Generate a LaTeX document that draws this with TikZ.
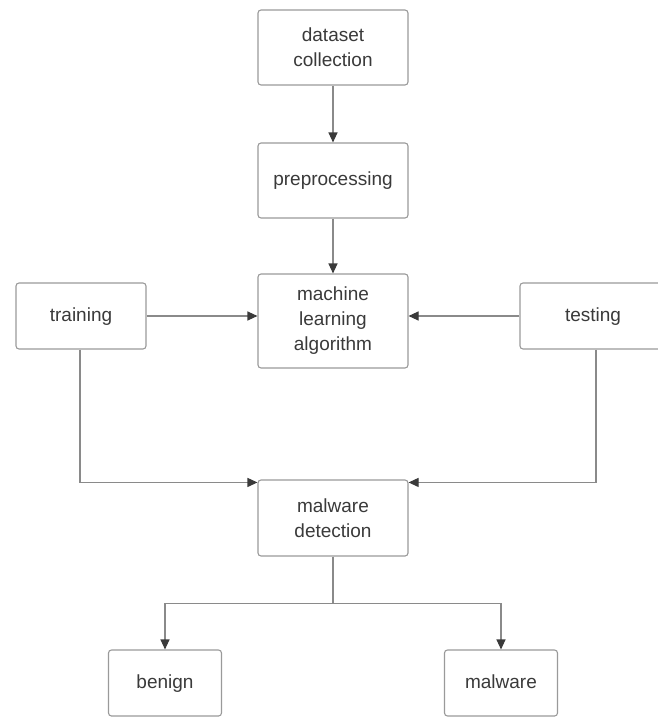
\documentclass[tikz,border=0pt]{standalone}
\usepackage{fontspec}
\setmainfont{Liberation Sans}
\usepackage{xcolor}
\usepackage{tikz}
\usetikzlibrary{
    arrows.meta
}
\definecolor{boxline}{HTML}{9A9A9A}
\definecolor{linkline}{HTML}{8A8A8A}
\definecolor{tiptext}{HTML}{3A3A3A}

\begin{document}
\begin{tikzpicture}[x=1pt, y=-1pt,
        stepbox/.style={draw=boxline, line width=1.1pt, rounded corners=3pt, fill=white,
            align=center, inner sep=0pt, text=tiptext,
            font=\fontsize{19}{25}\selectfont},
        oneline/.style={text height=14pt, text depth=4pt},
        link/.style={draw=linkline, line width=1.1pt,
            -{Triangle[width=9pt,length=10pt,color=tiptext]}}
    ]
        \useasboundingbox (0,0) rectangle (658,717);

        \node[stepbox, minimum width=150pt, minimum height=75pt] (dataset) at (333,47.5) {dataset\\collection};
        \node[stepbox, oneline, minimum width=150pt, minimum height=75pt] (preproc) at (333,180.5) {preprocessing};
        \node[stepbox, minimum width=150pt, minimum height=94pt] (mla) at (333,321) {machine\\learning\\algorithm};
        \node[stepbox, oneline, minimum width=130pt, minimum height=66pt] (training) at (81,316) {training};
        \node[stepbox, oneline, minimum width=146pt, minimum height=66pt] (testing) at (593,316) {testing};
        \node[stepbox, minimum width=150pt, minimum height=76pt] (detect) at (333,518) {malware\\detection};
        \node[stepbox, oneline, minimum width=113pt, minimum height=66pt] (benign) at (165,683) {benign};
        \node[stepbox, oneline, minimum width=113pt, minimum height=66pt] (malware) at (501,683) {malware};

        \draw[link] (dataset) -- (preproc);
        \draw[link] (preproc) -- (mla);
        \draw[link] (training.east) -- (training.east -| mla.west);
        \draw[link] (testing.west) -- (testing.west -| mla.east);
        \draw[link] ([xshift=-1pt]training.south) |- ([yshift=-3pt]detect.north west);
        \draw[link] ([xshift=3pt]testing.south) |- ([yshift=-3pt]detect.north east);
        \draw[link] (detect.south) -- ++(0,47) -| (benign.north);
        \draw[link] (detect.south) -- ++(0,47) -| (malware.north);
    \end{tikzpicture}
\end{document}
